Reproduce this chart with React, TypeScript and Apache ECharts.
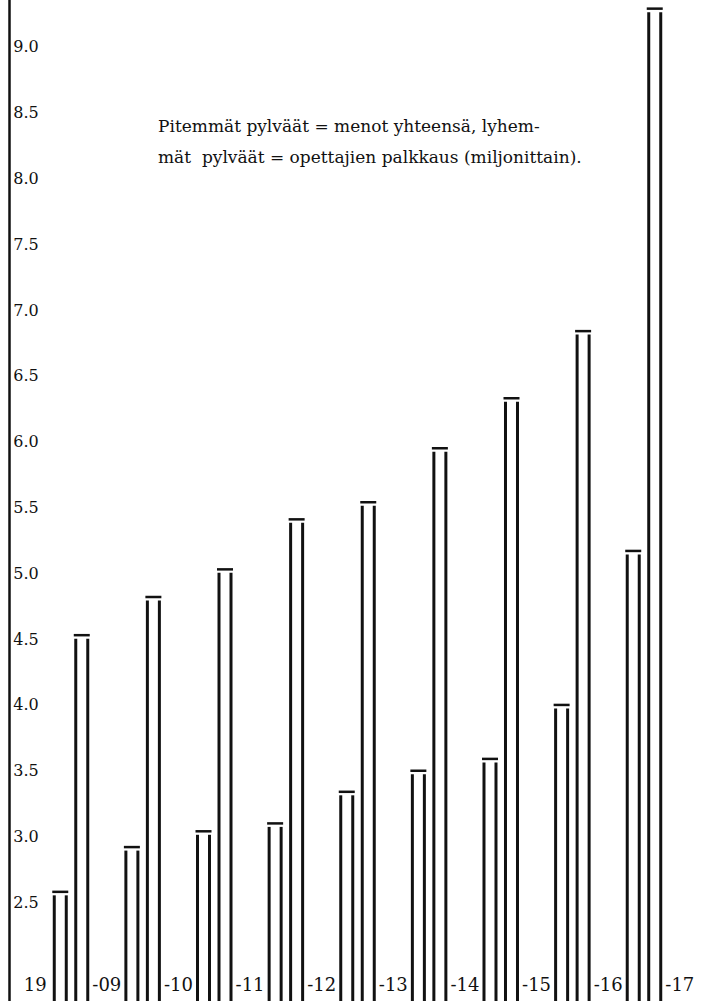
import React, { useEffect, useRef } from "react";
import * as echarts from "echarts";

// Lukuvuodet (pylväsparit)
const categories = ["1908-09", "1909-10", "1910-11", "1911-12", "1912-13", "1913-14", "1914-15", "1915-16", "1916-17"];
// Lyhemmät pylväät = opettajien palkkaus (milj.)
const salaries = [2.58, 2.92, 3.04, 3.1, 3.34, 3.5, 3.59, 4.0, 5.17];
// Pitemmät pylväät = menot yhteensä (milj.)
const totals = [4.53, 4.82, 5.03, 5.41, 5.54, 5.95, 6.33, 6.84, 9.29];
// Vuosimerkinnät pylväsparien välissä
const yearLabels = ["19", "-09", "-10", "-11", "-12", "-13", "-14", "-15", "-16", "-17"];
const noteLines = [
  "Pitemmät pylväät = menot yhteensä, lyhem-",
  "mät  pylväät = opettajien palkkaus (miljonittain).",
];

const Y_MIN = 1.5;
const Y_MAX = 9.5;
const FONT = "DejaVu Serif";
const INK = "#111";

export default function App() {
  const ref = useRef<HTMLDivElement>(null);
  useEffect(() => {
    if (!ref.current) return;
    const chart = echarts.init(ref.current, undefined, { renderer: "svg" });
    const renderItem = (params: any, api: any) => {
      const idx = api.value(0);
      const val = api.value(1);
      const top = api.coord([idx, val]);
      const bottom = api.coord([idx, Y_MIN])[1];
      const dx = params.seriesIndex === 0 ? -10.75 : 10.75;
      const cx = top[0] + dx;
      const half = 6;
      const st = { stroke: INK, lineWidth: 3 };
      return {
        type: "group",
        children: [
          { type: "line", shape: { x1: cx - half, y1: top[1] + 3.5, x2: cx - half, y2: bottom }, style: st },
          { type: "line", shape: { x1: cx + half, y1: top[1] + 3.5, x2: cx + half, y2: bottom }, style: st },
          { type: "line", shape: { x1: cx - 8, y1: top[1], x2: cx + 8, y2: top[1] }, style: { stroke: INK, lineWidth: 2.5 } },
        ],
      };
    };
    chart.setOption({
      animation: false,
      backgroundColor: "#fff",
      grid: { left: 35.2, right: 21.2, top: 0, bottom: 0 },
      xAxis: [
        {
          type: "category",
          data: categories,
          axisLine: { show: false },
          axisTick: { show: false },
          axisLabel: { show: false },
        },
        {
          type: "category",
          data: yearLabels,
          boundaryGap: false,
          position: "bottom",
          axisLine: { show: false },
          axisTick: { show: false },
          axisLabel: {
            show: true,
            inside: true,
            interval: 0,
            margin: 41,
            fontFamily: FONT,
            fontSize: 18,
            color: INK,
          },
        },
      ],
      yAxis: {
        type: "value",
        min: Y_MIN,
        max: Y_MAX,
        interval: 0.5,
        offset: 26,
        splitLine: { show: false },
        axisTick: { show: false },
        axisLine: { show: true, lineStyle: { color: INK, width: 2.5 } },
        axisLabel: {
          inside: true,
          margin: 4,
          fontFamily: FONT,
          fontSize: 16,
          color: INK,
          formatter: (v: number) => (v < 2.49 || v > 9.01 ? "" : v.toFixed(1)),
        },
      },
      graphic: [
        {
          type: "text",
          left: 158,
          top: 136,
          style: { text: noteLines[0], fontFamily: FONT, fontSize: 17, fill: INK },
        },
        {
          type: "text",
          left: 158,
          top: 167,
          style: { text: noteLines[1], fontFamily: FONT, fontSize: 17, fill: INK },
        },
      ],
      series: [
        { type: "custom", name: "opettajien palkkaus", xAxisIndex: 0, renderItem, data: salaries.map((v, i) => [i, v]) },
        { type: "custom", name: "menot yhteensä", xAxisIndex: 0, renderItem, data: totals.map((v, i) => [i, v]) },
      ],
    });
    return () => chart.dispose();
  }, []);
  return (
    <div
      ref={ref}
      style={{ position: "fixed", left: 0, top: -19, width: 701, height: 1053, background: "#fff" }}
    />
  );
}
